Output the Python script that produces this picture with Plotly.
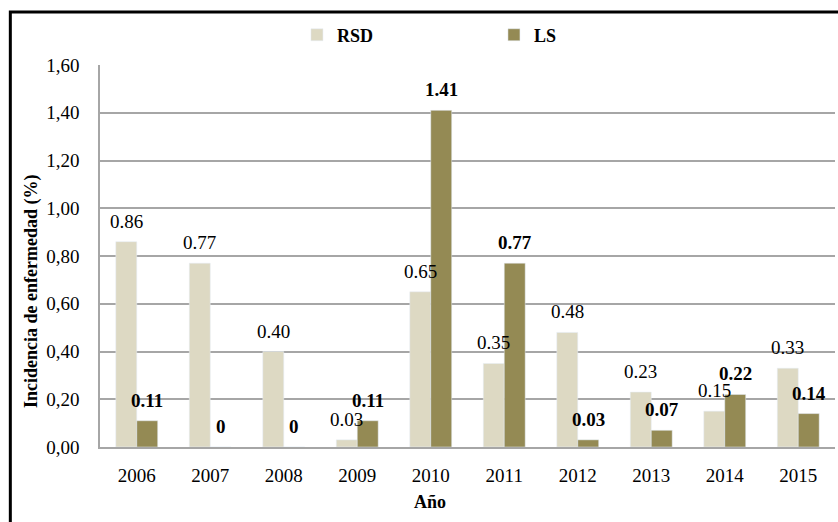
import plotly.graph_objects as go

years = ["2006", "2007", "2008", "2009", "2010", "2011", "2012", "2013", "2014", "2015"]
rsd = [0.86, 0.77, 0.40, 0.03, 0.65, 0.35, 0.48, 0.23, 0.15, 0.33]
ls = [0.11, 0.0, 0.0, 0.11, 1.41, 0.77, 0.03, 0.07, 0.22, 0.14]
y_ticks = [0.0, 0.2, 0.4, 0.6, 0.8, 1.0, 1.2, 1.4, 1.6]

FONT = "Liberation Serif, serif"
C_RSD = "#ddd9c3"
C_LS = "#948a54"


def label(v):
    return f"{v:.2f}" if v else "0"


fig = go.Figure()
fig.add_trace(go.Bar(x=years, y=rsd, name="<b>RSD</b>", marker=dict(color=C_RSD)))
fig.add_trace(go.Bar(x=years, y=ls, name="<b>LS</b>", marker=dict(color=C_LS)))

# value labels above each bar (RSD plain, LS bold); x is the category index
annotations = []
for i, v in enumerate(rsd):
    annotations.append(dict(x=i, y=v, xref="x", yref="y", text=label(v),
                            showarrow=False, xshift=-10.5, yanchor="bottom", yshift=8,
                            font=dict(family=FONT, size=19, color="#000")))
for i, v in enumerate(ls):
    annotations.append(dict(x=i, y=v, xref="x", yref="y", text=f"<b>{label(v)}</b>",
                            showarrow=False, xshift=10.5, yanchor="bottom", yshift=8,
                            font=dict(family=FONT, size=19, color="#000")))

# axis titles
annotations.append(dict(x=0.449, y=-0.144, xref="paper", yref="paper", text="<b>Año</b>",
                        showarrow=False, xanchor="center", yanchor="middle",
                        font=dict(family=FONT, size=18, color="#000")))
annotations.append(dict(x=-0.0925, y=0.406, xref="paper", yref="paper",
                        text="<b>Incidencia de enfermedad (%)</b>", textangle=-90,
                        showarrow=False, xanchor="center", yanchor="middle",
                        font=dict(family=FONT, size=18, color="#000")))

fig.update_layout(
    width=838, height=522,
    margin=dict(l=100, r=3, t=65, b=75, autoexpand=False),
    paper_bgcolor="white", plot_bgcolor="white",
    font=dict(family=FONT, size=19, color="#000"),
    separators=",.",
    barmode="group", bargap=0.43, bargroupgap=0,
    showlegend=True,
    legend=dict(orientation="h", x=0.536, xanchor="center", y=1.03, yanchor="bottom",
                yref="paper", font=dict(family=FONT, size=18), itemwidth=30,
                entrywidth=152, bgcolor="rgba(0,0,0,0)"),
    xaxis=dict(
        type="category", range=[-0.5, len(years) - 0.5], automargin=False,
        showline=True, linecolor="#a6a6a6", linewidth=2,
        ticks="", ticklabelstandoff=10,
        tickfont=dict(family=FONT, size=19),
    ),
    yaxis=dict(
        range=[0, 1.6], tickvals=y_ticks, tickformat=".2f", automargin=False,
        showgrid=True, gridcolor="#a6a6a6", gridwidth=1.5,
        showline=True, linecolor="#a6a6a6", linewidth=1.5,
        zeroline=False,
        ticks="outside", ticklen=15, tickcolor="rgba(0,0,0,0)",
        tickfont=dict(family=FONT, size=19),
    ),
    annotations=annotations,
    shapes=[dict(type="rect", xref="paper", yref="paper",
                 x0=-0.122, x1=1.05, y0=-0.5, y1=1.139,
                 line=dict(color="#000", width=3))],
)

fig.write_html("out.html")
